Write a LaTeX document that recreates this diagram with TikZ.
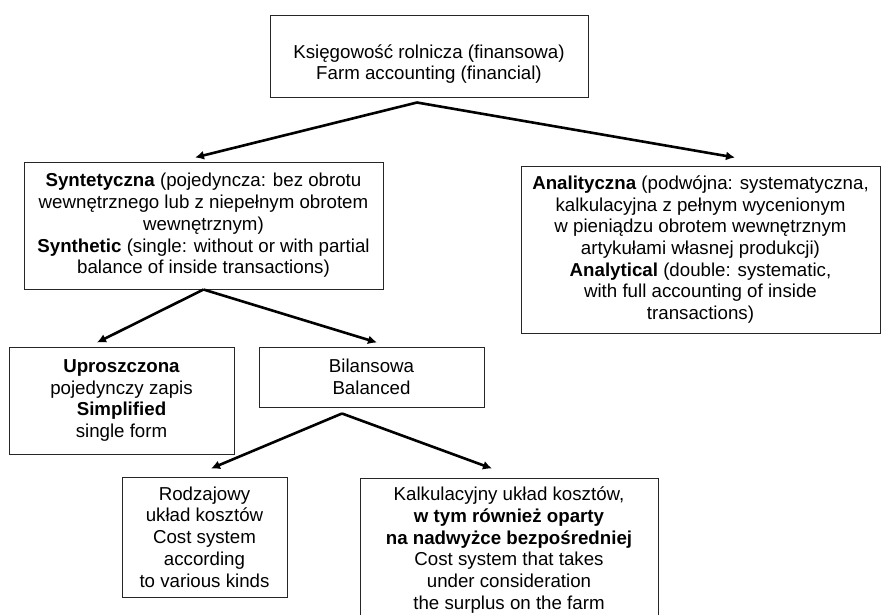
\documentclass[tikz,border=0pt]{standalone}
\usepackage{fontspec}
\setmainfont{Liberation Sans}
\usepackage{tikz}
\usetikzlibrary{arrows.meta,positioning}

\begin{document}
\begin{tikzpicture}[x=1pt,y=-1pt]
                \tikzstyle{every node}+=[inner sep=0pt]
                \tikzstyle{box}=[draw=black!85,line width=1pt,align=center,font=\fontsize{18.7}{21.7}\selectfont]
                \tikzstyle{arr}=[line width=2.6pt,-{Latex[length=9pt,width=9pt]}]
                \clip (0,0) rectangle (881,614);
                \node [box,minimum width=318,minimum height=82] (book) at (429,56)
                    {\rule{0pt}{30pt}Księgowość rolnicza (finansowa)\\Farm accounting (financial)};
                \node [box,minimum width=359,minimum height=127] (syn) at (203.5,225.5)
                    {\textbf{Syntetyczna} (pojedyncza: bez obrotu\\wewnętrznego lub z niepełnym obrotem\\wewnętrznym)\\\textbf{Synthetic} (single: without or with partial\\balance of inside transactions)};
                \node [box,minimum width=359,minimum height=167] (ana) at (700.5,249.5)
                    {\textbf{Analityczna} (podwójna: systematyczna,\\kalkulacyjna z pełnym wycenionym\\w pieniądzu obrotem wewnętrznym\\artykułami własnej produkcji)\\\textbf{Analytical} (double: systematic,\\with full accounting of inside\\transactions)};
                \node [box,minimum width=225,minimum height=107] (simple) at (121.5,400.5)
                    {\textbf{Uproszczona}\\pojedynczy zapis\\\textbf{Simplified}\\single form};
                \node [box,minimum width=225,minimum height=60] (bal) at (371.5,377)
                    {Bilansowa\\Balanced};
                \node [box,minimum width=165,minimum height=120] (kind) at (204.5,537)
                    {Rodzajowy\\układ kosztów\\Cost system\\according\\to various kinds};
                \node [box,minimum width=298,minimum height=144] (calc) at (509,550)
                    {\rule{0pt}{14pt}Kalkulacyjny układ kosztów,\\\textbf{w tym również oparty}\\\textbf{na nadwyżce bezpośredniej}\\Cost system that takes\\under consideration\\the surplus on the farm};
                % arrows
                \draw [arr] ([xshift=-12pt,yshift=-5pt]book.south) -- ([xshift=-8.5pt,yshift=4pt]syn.north);
                \draw [arr] ([xshift=-12pt,yshift=-5pt]book.south) -- ([xshift=34.5pt,yshift=8pt]ana.north);
                \draw [arr] (syn.south) -- ([xshift=-24.5pt,yshift=4pt]simple.north);
                \draw [arr] (syn.south) -- ([xshift=5.5pt,yshift=4pt]bal.north);
                \draw [arr] ([xshift=-29.5pt,yshift=-6pt]bal.south) -- ([xshift=6.5pt,yshift=8pt]kind.north);
                \draw [arr] ([xshift=-29.5pt,yshift=-6pt]bal.south) -- ([xshift=-17pt,yshift=9pt]calc.north);
            \end{tikzpicture}
\end{document}
